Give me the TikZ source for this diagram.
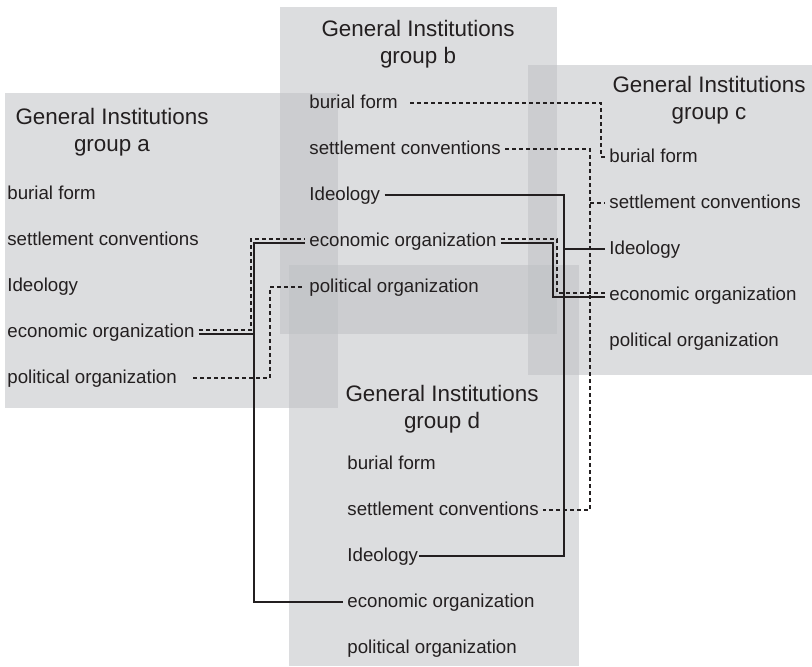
\documentclass[tikz,border=0pt]{standalone}
\usepackage{fontspec}
\setmainfont{Liberation Sans}
\usepackage{tikz}
\usetikzlibrary{positioning}
\definecolor{PanelGray}{RGB}{190,192,195}
\definecolor{InkBlack}{RGB}{35,31,32}

\begin{document}
\begin{tikzpicture}[
  x=0.5pt, y=-0.5pt,
  panel/.style={fill=PanelGray, fill opacity=0.54},
  title/.style={align=center, font=\fontsize{11.2}{13.5}\selectfont, text=InkBlack, inner sep=0pt},
  item/.style={anchor=west, font=\fontsize{9.35}{11}\selectfont, text=InkBlack, inner xsep=2pt, inner ysep=0pt, text height=6pt, text depth=1pt},
  link/.style={draw=InkBlack, line width=0.8pt},
  dotlink/.style={draw=InkBlack, line width=0.8pt, dash pattern=on 2pt off 1.5pt}
]
  \useasboundingbox (0,0) rectangle (812,666);

  % the four institution panels
  \fill[panel] (5,93) rectangle (338,408);
  \fill[panel] (280,7) rectangle (557,334);
  \fill[panel] (528,65) rectangle (812,375);
  \fill[panel] (289,265) rectangle (579,666);

  \node[title] (a-title) at (112,132) {General Institutions\\group a};
  \node[title] (b-title) at (418,44) {General Institutions\\group b};
  \node[title] (c-title) at (709,100) {General Institutions\\group c};
  \node[title] (d-title) at (442,409) {General Institutions\\group d};

  % same five entries in every group
  \foreach \g/\gx/\gy in {a/3/194, b/305/103, c/605/157, d/343/464} {
    \foreach \name/\txt [count=\i from 0] in {burial/burial form, settle/settlement conventions, ideo/Ideology, econ/economic organization, pol/political organization}
      \node[item] (\g-\name) at (\gx,{\gy+46*\i}) {\txt};
  }

  % economic organization: a -- b -- d
  \coordinate (econ-split) at (254,243);
  \draw[link] ([yshift=-1pt]a-econ.east) -| (econ-split) -- ([yshift=-1pt]b-econ.west);
  \draw[link] (econ-split) |- (d-econ.west);
  \draw[dotlink] ([yshift=1pt]a-econ.east) -| (251,239) -- ([yshift=1pt]b-econ.west);

  % economic organization: b -- c
  \draw[link] ([yshift=-1pt]b-econ.east) -| (553,297) -- ([yshift=-1pt]c-econ.west);
  \draw[dotlink] ([yshift=1pt]b-econ.east) -| (557,293) -- ([yshift=1pt]c-econ.west);

  % political organization: a -- b
  \draw[dotlink] ([xshift=6pt]a-pol.east) -| (270,287) -- (b-pol.west);

  % burial form: b -- c
  \draw[dotlink] ([xshift=4pt]b-burial.east) -| (601,157) -- (c-burial.west);

  % settlement conventions: b -- c, d
  \coordinate (settle-split) at (590,203);
  \draw[dotlink] (b-settle.east) -| (590,510) -- (d-settle.east);
  \draw[dotlink] (settle-split) -- (c-settle.west);

  % ideology: b -- c, d
  \coordinate (ideo-split) at (564,249);
  \draw[link] (b-ideo.east) -| (564,556) -- ([xshift=-2pt]d-ideo.east);
  \draw[link] (ideo-split) -- (c-ideo.west);
\end{tikzpicture}
\end{document}
